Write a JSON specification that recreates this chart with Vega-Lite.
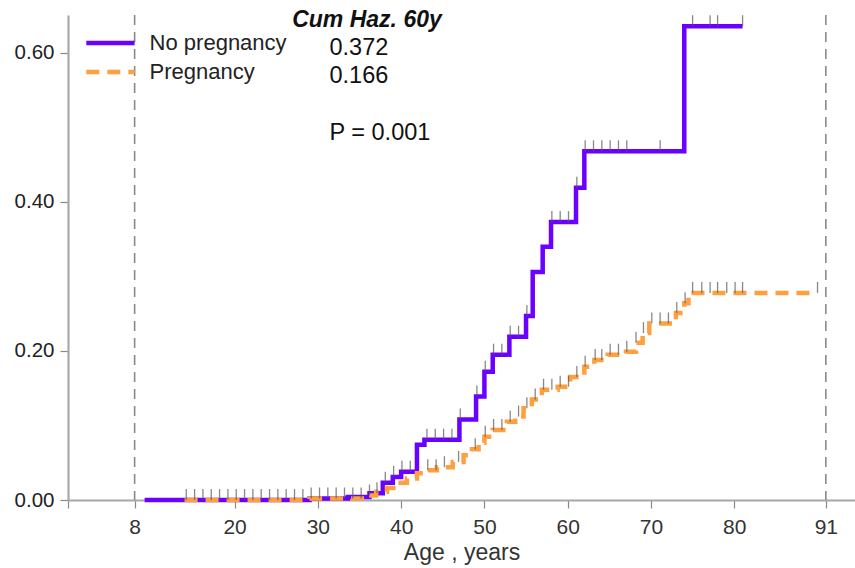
{
  "$schema": "https://vega.github.io/schema/vega-lite/v6.json",
  "width": 787,
  "height": 485,
  "autosize": {"type": "none"},
  "padding": {"left": 68, "top": 15, "right": 0, "bottom": 68},
  "background": "white",
  "config": {
    "view": {"stroke": null},
    "font": "Liberation Sans",
    "axis": {"grid": false, "domainColor": "#a8a8a8", "domainWidth": 2.2, "tickColor": "#888", "tickWidth": 1.2, "tickSize": 8, "labelColor": "#333", "labelFont": "Liberation Sans", "titleFont": "Liberation Sans", "titleColor": "#333", "titleFontWeight": "normal"}
  },
  "datasets": {
    "curves": [
      {"group": "No pregnancy", "age": 9.2, "value": 0},
      {"group": "No pregnancy", "age": 29, "value": 0.002},
      {"group": "No pregnancy", "age": 33.6, "value": 0.004},
      {"group": "No pregnancy", "age": 36.2, "value": 0.009},
      {"group": "No pregnancy", "age": 37.8, "value": 0.023},
      {"group": "No pregnancy", "age": 39, "value": 0.031},
      {"group": "No pregnancy", "age": 40, "value": 0.038},
      {"group": "No pregnancy", "age": 41.9, "value": 0.074},
      {"group": "No pregnancy", "age": 42.8, "value": 0.081},
      {"group": "No pregnancy", "age": 47, "value": 0.108},
      {"group": "No pregnancy", "age": 49, "value": 0.139},
      {"group": "No pregnancy", "age": 50, "value": 0.172},
      {"group": "No pregnancy", "age": 51, "value": 0.195},
      {"group": "No pregnancy", "age": 53, "value": 0.219},
      {"group": "No pregnancy", "age": 55, "value": 0.247},
      {"group": "No pregnancy", "age": 55.8, "value": 0.306},
      {"group": "No pregnancy", "age": 57, "value": 0.34},
      {"group": "No pregnancy", "age": 58, "value": 0.373},
      {"group": "No pregnancy", "age": 61, "value": 0.419},
      {"group": "No pregnancy", "age": 62, "value": 0.468},
      {"group": "No pregnancy", "age": 74, "value": 0.636},
      {"group": "No pregnancy", "age": 81, "value": 0.636},
      {"group": "Pregnancy", "age": 14, "value": 0},
      {"group": "Pregnancy", "age": 29, "value": 0.002},
      {"group": "Pregnancy", "age": 36, "value": 0.006},
      {"group": "Pregnancy", "age": 37, "value": 0.011},
      {"group": "Pregnancy", "age": 38.3, "value": 0.016},
      {"group": "Pregnancy", "age": 39.5, "value": 0.023},
      {"group": "Pregnancy", "age": 40.7, "value": 0.029},
      {"group": "Pregnancy", "age": 41.9, "value": 0.036},
      {"group": "Pregnancy", "age": 42.8, "value": 0.04},
      {"group": "Pregnancy", "age": 44.3, "value": 0.044},
      {"group": "Pregnancy", "age": 46.2, "value": 0.051},
      {"group": "Pregnancy", "age": 47.5, "value": 0.06},
      {"group": "Pregnancy", "age": 48.5, "value": 0.068},
      {"group": "Pregnancy", "age": 49.3, "value": 0.077},
      {"group": "Pregnancy", "age": 50, "value": 0.085},
      {"group": "Pregnancy", "age": 51, "value": 0.094},
      {"group": "Pregnancy", "age": 52.7, "value": 0.105},
      {"group": "Pregnancy", "age": 53.7, "value": 0.112},
      {"group": "Pregnancy", "age": 54.7, "value": 0.123},
      {"group": "Pregnancy", "age": 55.7, "value": 0.135},
      {"group": "Pregnancy", "age": 56.9, "value": 0.148},
      {"group": "Pregnancy", "age": 58.8, "value": 0.152},
      {"group": "Pregnancy", "age": 60.3, "value": 0.165},
      {"group": "Pregnancy", "age": 62, "value": 0.179},
      {"group": "Pregnancy", "age": 63.2, "value": 0.188},
      {"group": "Pregnancy", "age": 64.8, "value": 0.195},
      {"group": "Pregnancy", "age": 67, "value": 0.199},
      {"group": "Pregnancy", "age": 68.2, "value": 0.211},
      {"group": "Pregnancy", "age": 69, "value": 0.224},
      {"group": "Pregnancy", "age": 69.8, "value": 0.237},
      {"group": "Pregnancy", "age": 73, "value": 0.251},
      {"group": "Pregnancy", "age": 74, "value": 0.264},
      {"group": "Pregnancy", "age": 74.5, "value": 0.278},
      {"group": "Pregnancy", "age": 89.5, "value": 0.278}
    ],
    "censor": [
      {"group": "Pregnancy", "age": 14.2, "value": 0},
      {"group": "Pregnancy", "age": 15.2, "value": 0},
      {"group": "Pregnancy", "age": 16.2, "value": 0},
      {"group": "Pregnancy", "age": 17.2, "value": 0},
      {"group": "Pregnancy", "age": 18.2, "value": 0},
      {"group": "Pregnancy", "age": 19.2, "value": 0},
      {"group": "Pregnancy", "age": 20.2, "value": 0},
      {"group": "Pregnancy", "age": 21.2, "value": 0},
      {"group": "Pregnancy", "age": 22.2, "value": 0},
      {"group": "Pregnancy", "age": 23.2, "value": 0},
      {"group": "Pregnancy", "age": 24.2, "value": 0},
      {"group": "Pregnancy", "age": 25.2, "value": 0},
      {"group": "Pregnancy", "age": 26.2, "value": 0},
      {"group": "Pregnancy", "age": 27.2, "value": 0},
      {"group": "Pregnancy", "age": 28.2, "value": 0},
      {"group": "Pregnancy", "age": 29.2, "value": 0.002},
      {"group": "Pregnancy", "age": 30.2, "value": 0.002},
      {"group": "Pregnancy", "age": 31.2, "value": 0.002},
      {"group": "Pregnancy", "age": 32.2, "value": 0.002},
      {"group": "Pregnancy", "age": 33.2, "value": 0.002},
      {"group": "Pregnancy", "age": 34.2, "value": 0.002},
      {"group": "Pregnancy", "age": 35.2, "value": 0.002},
      {"group": "Pregnancy", "age": 36.2, "value": 0.006},
      {"group": "Pregnancy", "age": 43.2, "value": 0.04},
      {"group": "Pregnancy", "age": 44.2, "value": 0.04},
      {"group": "Pregnancy", "age": 45.2, "value": 0.044},
      {"group": "Pregnancy", "age": 46.9, "value": 0.051},
      {"group": "Pregnancy", "age": 48.9, "value": 0.068},
      {"group": "Pregnancy", "age": 50.1, "value": 0.085},
      {"group": "Pregnancy", "age": 51.1, "value": 0.094},
      {"group": "Pregnancy", "age": 52.1, "value": 0.094},
      {"group": "Pregnancy", "age": 53.1, "value": 0.105},
      {"group": "Pregnancy", "age": 54.1, "value": 0.112},
      {"group": "Pregnancy", "age": 55.1, "value": 0.123},
      {"group": "Pregnancy", "age": 56.1, "value": 0.135},
      {"group": "Pregnancy", "age": 57.1, "value": 0.148},
      {"group": "Pregnancy", "age": 58.1, "value": 0.148},
      {"group": "Pregnancy", "age": 59.1, "value": 0.152},
      {"group": "Pregnancy", "age": 60.1, "value": 0.152},
      {"group": "Pregnancy", "age": 61.1, "value": 0.165},
      {"group": "Pregnancy", "age": 62.1, "value": 0.179},
      {"group": "Pregnancy", "age": 63.3, "value": 0.188},
      {"group": "Pregnancy", "age": 64.1, "value": 0.188},
      {"group": "Pregnancy", "age": 65.1, "value": 0.195},
      {"group": "Pregnancy", "age": 66.1, "value": 0.195},
      {"group": "Pregnancy", "age": 67.1, "value": 0.199},
      {"group": "Pregnancy", "age": 68.2, "value": 0.211},
      {"group": "Pregnancy", "age": 69.1, "value": 0.224},
      {"group": "Pregnancy", "age": 70.1, "value": 0.237},
      {"group": "Pregnancy", "age": 71.1, "value": 0.237},
      {"group": "Pregnancy", "age": 72.1, "value": 0.237},
      {"group": "Pregnancy", "age": 73.1, "value": 0.251},
      {"group": "Pregnancy", "age": 74.1, "value": 0.264},
      {"group": "Pregnancy", "age": 75, "value": 0.278},
      {"group": "Pregnancy", "age": 76.1, "value": 0.278},
      {"group": "Pregnancy", "age": 77.1, "value": 0.278},
      {"group": "Pregnancy", "age": 78, "value": 0.278},
      {"group": "Pregnancy", "age": 79.1, "value": 0.278},
      {"group": "Pregnancy", "age": 80.1, "value": 0.278},
      {"group": "Pregnancy", "age": 81, "value": 0.278},
      {"group": "Pregnancy", "age": 90, "value": 0.278},
      {"group": "No pregnancy", "age": 37.1, "value": 0.009},
      {"group": "No pregnancy", "age": 38.1, "value": 0.023},
      {"group": "No pregnancy", "age": 39.1, "value": 0.031},
      {"group": "No pregnancy", "age": 40.1, "value": 0.038},
      {"group": "No pregnancy", "age": 41.1, "value": 0.038},
      {"group": "No pregnancy", "age": 43.1, "value": 0.081},
      {"group": "No pregnancy", "age": 44.1, "value": 0.081},
      {"group": "No pregnancy", "age": 45.1, "value": 0.081},
      {"group": "No pregnancy", "age": 46.1, "value": 0.081},
      {"group": "No pregnancy", "age": 47.1, "value": 0.108},
      {"group": "No pregnancy", "age": 49.1, "value": 0.139},
      {"group": "No pregnancy", "age": 50.1, "value": 0.172},
      {"group": "No pregnancy", "age": 51.1, "value": 0.195},
      {"group": "No pregnancy", "age": 52.1, "value": 0.195},
      {"group": "No pregnancy", "age": 53.1, "value": 0.219},
      {"group": "No pregnancy", "age": 54.1, "value": 0.219},
      {"group": "No pregnancy", "age": 55.1, "value": 0.247},
      {"group": "No pregnancy", "age": 58.1, "value": 0.373},
      {"group": "No pregnancy", "age": 59.1, "value": 0.373},
      {"group": "No pregnancy", "age": 60.1, "value": 0.373},
      {"group": "No pregnancy", "age": 61.1, "value": 0.419},
      {"group": "No pregnancy", "age": 62.1, "value": 0.468},
      {"group": "No pregnancy", "age": 63.1, "value": 0.468},
      {"group": "No pregnancy", "age": 64.1, "value": 0.468},
      {"group": "No pregnancy", "age": 65.1, "value": 0.468},
      {"group": "No pregnancy", "age": 66.1, "value": 0.468},
      {"group": "No pregnancy", "age": 67.1, "value": 0.468},
      {"group": "No pregnancy", "age": 71.1, "value": 0.468},
      {"group": "No pregnancy", "age": 75, "value": 0.636},
      {"group": "No pregnancy", "age": 77.1, "value": 0.636},
      {"group": "No pregnancy", "age": 78, "value": 0.636},
      {"group": "No pregnancy", "age": 81, "value": 0.636}
    ],
    "one": [{}]
  },
  "layer": [
    {
      "data": {"name": "one"},
      "mark": {"type": "rule", "color": "#8a8a8a", "strokeWidth": 1.6, "strokeDash": [10, 7]},
      "encoding": {"x": {"datum": 8, "type": "quantitative"}}
    },
    {
      "data": {"name": "one"},
      "mark": {"type": "rule", "color": "#8a8a8a", "strokeWidth": 1.6, "strokeDash": [10, 7]},
      "encoding": {"x": {"datum": 91, "type": "quantitative"}}
    },
    {
      "data": {"name": "curves"},
      "mark": {"type": "line", "interpolate": "step-after", "strokeWidth": 4.5},
      "encoding": {
        "x": {
          "field": "age", "type": "quantitative",
          "scale": {"domain": [0, 94.5], "nice": false, "zero": false},
          "axis": {"values": [0, 8, 20, 30, 40, 50, 60, 70, 80, 91], "labelExpr": "datum.value == 0 ? '' : datum.label", "title": "Age , years", "labelFontSize": 21, "titleFontSize": 23, "labelPadding": 8, "titlePadding": 4, "labelFlush": false}
        },
        "y": {
          "field": "value", "type": "quantitative",
          "scale": {"domain": [0, 0.651], "nice": false, "zero": false},
          "axis": {"values": [0, 0.2, 0.4, 0.6], "format": ".2f", "title": null, "labelFontSize": 20.5, "labelPadding": 6, "labelColor": "#222"}
        },
        "color": {
          "field": "group", "type": "nominal",
          "scale": {"domain": ["No pregnancy", "Pregnancy"], "range": ["#6a00ff", "#ffa040"]},
          "legend": null
        },
        "strokeDash": {
          "field": "group", "type": "nominal",
          "scale": {"domain": ["No pregnancy", "Pregnancy"], "range": [[1, 0], [13, 8]]},
          "legend": null
        }
      }
    },
    {
      "data": {"name": "censor"},
      "mark": {"type": "tick", "orient": "vertical", "size": 11, "thickness": 1.3, "yOffset": -5.5, "color": "#555"},
      "encoding": {
        "x": {"field": "age", "type": "quantitative"},
        "y": {"field": "value", "type": "quantitative"}
      }
    },
    {
      "data": {"name": "one"},
      "mark": {"type": "rule", "color": "#6a00ff", "strokeWidth": 4.5},
      "encoding": {"x": {"datum": 2.2, "type": "quantitative"}, "x2": {"datum": 8.0}, "y": {"datum": 0.6134, "type": "quantitative"}}
    },
    {
      "data": {"name": "one"},
      "mark": {"type": "rule", "color": "#ffa040", "strokeWidth": 4.5, "strokeDash": [13, 8]},
      "encoding": {"x": {"datum": 2.2, "type": "quantitative"}, "x2": {"datum": 8.0}, "y": {"datum": 0.5745, "type": "quantitative"}}
    },
    {
      "data": {"name": "one"},
      "mark": {"type": "text", "font": "Liberation Sans", "fontSize": 22, "align": "left", "baseline": "middle", "color": "#222"},
      "encoding": {"x": {"datum": 9.8, "type": "quantitative"}, "y": {"datum": 0.6134, "type": "quantitative"}, "text": {"value": "No pregnancy"}}
    },
    {
      "data": {"name": "one"},
      "mark": {"type": "text", "font": "Liberation Sans", "fontSize": 22, "align": "left", "baseline": "middle", "color": "#222"},
      "encoding": {"x": {"datum": 9.8, "type": "quantitative"}, "y": {"datum": 0.5745, "type": "quantitative"}, "text": {"value": "Pregnancy"}}
    },
    {
      "data": {"name": "one"},
      "mark": {"type": "text", "font": "Liberation Sans", "fontSize": 23, "fontWeight": "bold", "fontStyle": "italic", "align": "center", "baseline": "middle", "color": "#111"},
      "encoding": {"x": {"datum": 35.9, "type": "quantitative"}, "y": {"datum": 0.644, "type": "quantitative"}, "text": {"value": "Cum Haz. 60y"}}
    },
    {
      "data": {"name": "one"},
      "mark": {"type": "text", "font": "Liberation Sans", "fontSize": 23.5, "align": "left", "baseline": "middle", "color": "#111"},
      "encoding": {"x": {"datum": 31.4, "type": "quantitative"}, "y": {"datum": 0.607, "type": "quantitative"}, "text": {"value": "0.372"}}
    },
    {
      "data": {"name": "one"},
      "mark": {"type": "text", "font": "Liberation Sans", "fontSize": 23.5, "align": "left", "baseline": "middle", "color": "#111"},
      "encoding": {"x": {"datum": 31.4, "type": "quantitative"}, "y": {"datum": 0.569, "type": "quantitative"}, "text": {"value": "0.166"}}
    },
    {
      "data": {"name": "one"},
      "mark": {"type": "text", "font": "Liberation Sans", "fontSize": 23.5, "align": "left", "baseline": "middle", "color": "#111"},
      "encoding": {"x": {"datum": 31.4, "type": "quantitative"}, "y": {"datum": 0.493, "type": "quantitative"}, "text": {"value": "P = 0.001"}}
    }
  ]
}
